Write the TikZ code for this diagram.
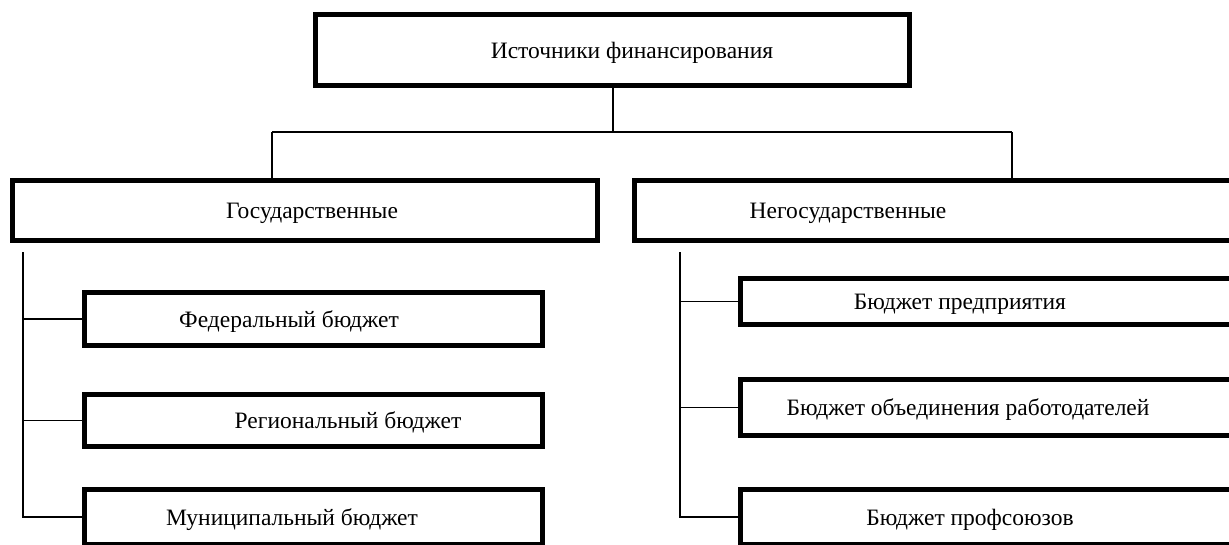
\documentclass[tikz,border=0pt]{standalone}
\usepackage{fontspec}
\setmainfont{Liberation Serif}
\begin{document}
\begin{tikzpicture}[x=1pt,y=-1pt,
  box/.style={draw, line width=5pt, fill=white, inner sep=0pt, anchor=north west,
    text depth=0pt, font=\fontsize{23.5}{27}\selectfont},
  conn/.style={line width=1.5pt}]
\useasboundingbox (0,0) rectangle (1229,544);
\clip (0,0) rectangle (1229,544);
% boxes (outer edges given; min size = outer - line width)
\node[box, minimum width=594pt, minimum height=71pt] (top) at (313,12) {\hspace*{39pt}Источники финансирования};
\node[box, minimum width=585pt, minimum height=60pt] (gos) at (10,178) {\hspace*{14pt}Государственные};
\node[box, minimum width=623pt, minimum height=60pt] (neg) at (632,178) {\hspace*{-196pt}Негосударственные};
\node[box, minimum width=458pt, minimum height=53pt] (fed) at (82,290) {\hspace*{-49pt}Федеральный бюджет};
\node[box, minimum width=458pt, minimum height=52pt] (reg) at (82,392) {\hspace*{69pt}Региональный бюджет};
\node[box, minimum width=458pt, minimum height=55pt] (mun) at (82,487) {\hspace*{-43pt}Муниципальный бюджет};
\node[box, minimum width=517pt, minimum height=46pt] (pred) at (738,276) {\hspace*{-78pt}Бюджет предприятия};
\node[box, minimum width=517pt, minimum height=56pt] (obj) at (738,377) {\hspace*{-62pt}Бюджет объединения работодателей};
\node[box, minimum width=517pt, minimum height=55pt] (prof) at (738,487) {\hspace*{-58pt}Бюджет профсоюзов};
% connectors
\coordinate (j) at (613,132);
\coordinate (jl) at (272,132);
\coordinate (jr) at (1012,132);
\draw[conn] (top.south -| j) -- (j);
\draw[conn] (jl) -- (jr);
\draw[conn] (jl) -- (jl |- gos.north);
\draw[conn] (jr) -- (jr |- neg.north);
\coordinate (lt) at (23,252);
\draw[conn] (lt) |- (mun.west);
\draw[conn] (lt |- fed.west) -- (fed.west);
\draw[conn] (lt |- reg.west) -- (reg.west);
\coordinate (rt) at (680,252);
\draw[conn] (rt) |- (prof.west);
\draw[conn] (rt |- pred.west) -- (pred.west);
\draw[conn] (rt |- obj.west) -- (obj.west);
\end{tikzpicture}
\end{document}
